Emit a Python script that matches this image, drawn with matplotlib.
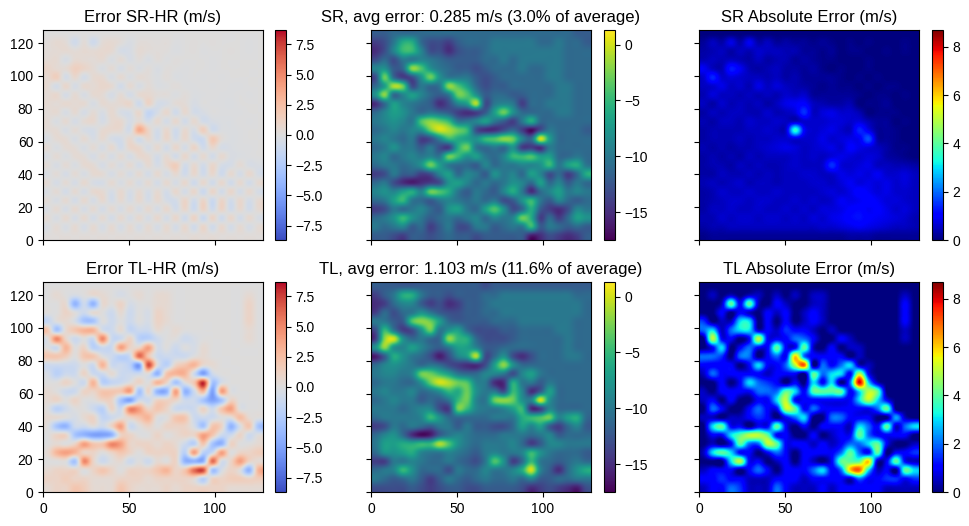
#!/usr/bin/env python

import numpy as np
import matplotlib
matplotlib.use("Agg")
import matplotlib.pyplot as plt

plt.rcParams['font.family'] = ['Liberation Sans', 'DejaVu Sans']

# values on a 24x24 grid, top row first (y=128 down to y=0)
sr_speed = [
[-12,-12,-11,-11,-11,-11,-11,-11,-11,-11,-11,-11,-11,-11,-11,-11,-11,-11,-11,-11,-11,-11,-12,-12],
[-14,-13,-10, -6, -6,-11,-13,-13,-14,-12,-11,-11,-11,-10,-10,-10,-10,-10,-11,-11,-10,-11,-11,-12],
[-15,-13, -9, -5, -5, -9,-13,-13,-15,-13,-12,-12,-11,-10,-10,-10,-10,-10,-10,-10,-10,-11,-11,-11],
[-13,-11,-13,-10,-10, -9,-10,-11,-12,-12,-12,-12,-11,-11,-10,-11,-10,-10,-10,-10,-10,-11,-11,-11],
[ -9, -8,-12,-11, -2, -4, -8,-10,-11,-12,-12,-13,-12,-11,-11,-11,-10,-11,-11,-10,-10,-11,-11,-11],
[-13, -3,-11,-14,-13, -8, -3, -8,-10,-10,-10,-12,-13,-12,-11,-11,-11,-11,-11,-10,-10,-11,-11,-11],
[-11, -7, -1, -3,-13,-10,-11,-10, -2, -4, -7,-11,-13,-12,-12,-11,-11,-11,-11,-11,-10,-10,-11,-11],
[ -8, -2,-11, -9, -7, -9, -11,-12, -10, -3, -4, -8,-12,-11,-11,-12,-12,-11,-11,-11,-10,-10,-11,-11],
[-15,-11, -7, -9,-10,-11,-12,-15,-13, -9, -7, -1,-13,-10, -9,-10,-14,-11,-11,-10,-10,-10,-11,-11],
[-11, -9, -7, -8,-10,-11,-10,-11,-12,-14,-15,-14,-12, -7, -3, -8,-11,-11,-11,-11,-10,-10,-11,-11],
[-10, -9, -8, -9,-10, -4, -2, -3, -5,-10,-10, -9, -7,-10,-12,-14,-10, -6,-11,-11,-11,-11,-11,-11],
[-11,-10, -9,-10, -9, -8, -3,  0, -1, -3, -5,-13,-15,-15,-13,-11,-14,-17,-13,-10,-11,-11,-11,-12],
[-10, -9,-10,-11,-10,-14,-13,-9, -5, -6, -7, -8, -5, -4, -2, -3, -9,-11,  0, -7,-11,-11,-11,-11],
[-11,-10, -8,-10,-10,-12,-10,-13,-14, -6, -3,-10,-11,-10,-11,-8,-14,-14,-15,-10,-11,-11,-11,-11],
[-10, -9,-11,-10, -9,-10, -9,-10, -3, -5, -8, -7,-10,-11, -9, -5, -5, -4, -7, -7,-11,-11,-10,-11],
[-11,-10,-10,-11,-10, -8, -3, -7,-10,-11,-11,-12, -9,-11,-10,-10, -9, -9, -8, -5,-10, -7, -6,-10],
[-14,-13,-10,-12,-12,-14,-13,-9, -7,-11, -9,-10,-12,-8,-10, -9,-11, -7, -9,-13,-11,-14,-11, -6],
[-11,-10,-13,-15,-16,-15,-14,-13, -8, -7, -9,-11,-10,-11,-10, -8, -9,-11, -7,-11,-9,-12,-10,-11],
[ -9, -8, -9, -7, -6, -9, -3, -4, -6,-10,-12,-10,-11,-12,-9, -6,-10,-15,-11,-9,-7,-10,-9,-10],
[-11,-10, -7, -5,-10,-11,-12,-10, -9,-10,-11,-10,-11,-10,-13,-12, -8, -5,-10,-12,-9,-11,-12,-11],
[-14,-13,-10,-11,-10, -9,-11,-12,-8, -7,-10,-11, -7, -4, -8,-13,-11, -6,-12,-14,-15,-13,-9,-10],
[-11,-10, -8, -5, -8,-10,-12,-11,-10,-11,-10, -9,-11, -9,-10,-9, -3, -6,-14,-11,-14,-11, -7, -8],
[-10,-11,-10, -9,-12,-11,-14,-12,-10,-13,-13,-10,-10,-12,-11,-10,-10, -5,-12,-10,-11,-12,-11,-12],
[-12,-12,-13,-14,-12,-12,-13,-12,-11,-12,-12,-13,-12,-12,-12,-12,-12,-16,-15,-13,-14,-15,-14,-12],
]

tl_speed = [
[-12,-12,-12,-12,-12,-12,-12,-12,-12,-12,-12,-12,-13,-12,-12,-12,-12,-12,-12,-12,-12,-12,-12,-12],
[-14,-12,-10, -6, -6,-10,-12,-12,-13,-12,-12,-12,-11,-11,-10,-10,-10,-10,-10,-10,-10,-10,-11,-11],
[-15,-14,-11, -9, -9,-12,-14,-13,-15,-14,-12,-12,-11,-10,-10,-10,-10,-10,-10,-10,-10,-10,-10,-11],
[-14,-11,-13,-11,-10, -8,-10,-12,-13,-13,-12,-12,-11,-11,-10,-10,-10,-10,-10,-10,-10,-10,-10,-11],
[-10,-10,-12,-12, -4, -2, -3, -7,-11,-12,-12,-12,-12,-11,-11,-11,-10,-10,-10,-10,-10,-10,-11,-11],
[-13, -5,-10,-14,-13, -8, -3,-10,-8, -7,-11,-13,-13,-13,-12,-12,-11,-11,-11,-11,-10,-10,-11,-11],
[-14, -2,  0, -8,-11,-10,-11,-11, -2, -5, -6,-11,-13,-13,-13,-12,-11,-11,-11,-11,-11,-10,-11,-11],
[ -8, -2, -8, -9, -7, -9,-11,-12,-10, -7, -7, -9,-12,-12,-11,-11,-11,-11,-11,-11,-11,-10,-11,-11],
[-16,-12, -6, -8,-10,-11,-13,-16,-13,-9, -7, -1,-13,-11, -8,-13,-15,-13,-11,-11,-11,-10,-10,-11],
[-11, -9, -8, -9,-10,-11,-10,-11,-13,-14,-15,-15,-13, -7, -2, -8,-11,-11,-11,-11,-11,-11,-11,-11],
[-10, -9, -9,-10, -9, -3, -3, -5, -7,-10,-11,-11, -9, -9,-10,-13,-9, -7,-10,-11,-11,-11,-11,-11],
[-11,-10,-10,-11,-11,-8, -3,  0, -1, -3, -4, -9,-10,-15,-15,-6,-10,-10,-12,-10,-11,-11,-11,-11],
[-10, -9,-10,-10, -9,-11,-10,-8, -5, -6, -3, -8,-10,-10,-13, -5,-9,-15,-12, -7,-11,-11,-11,-11],
[-11,-10, -9,-10,-10,-12,-11,-12,-10, -5, -3, -9,-10, -3, -2, -3,-8, -9,  0, -8,-11,-11,-11,-11],
[-10,-10,-10,-11,-10, -9, -9,-13,-14, -3, -5, -9,-10,-10,-9, -7, -5,-15,-14,-9,-11,-11,-11,-11],
[-11,-10,-10,-10,-10,-9, -5, -8,-11,-11,-11,-11,-11,-10,-10,-10, -6, -5, -4, -3,-9,-7, -6,-11],
[-14,-13,-10,-11,-10,-11,-12,-10,-10,-12,-10,-12,-12,-13,-13,-11, -7,-9, -7,-12,-14,-11,-9,-12],
[-11, -9, -8,-11,-15,-17,-16,-12,-10,-9,-10,-11,-11,-11,-10,-10,-10,-11,-10,-9,-12,-11,-11,-11],
[-10, -7, -7, -6, -6, -5, -5, -1, -4, -8,-10,-11,-10,-10,-10,-9,-11,-14,-12,-9,-9,-10,-10,-10],
[-11, -8, -8, -7, -6, -9,-10,-10,-9,-10,-11,-12,-10,-9,-10,-10,-9, -5, -8,-10,-11,-11,-11,-12],
[-14,-14,-10,-10,-9,-10,-11,-11,-10,-11,-12,-13,-10, -4, -8,-14,-11, -5,-10,-11,-12,-11,-10,-11],
[-11,-10, -9, -5, -8,-11,-11,-11,-13,-10,-11,-11,-9,-10,-10,-9, -6,  0, -9,-12,-15,-11,-8, -6],
[-10,-11,-12,-11,-10,-12,-14,-12,-10,-11,-12,-11,-10,-11,-11,-10,-11,-9,-12,-12,-11,-11,-10,-10],
[-13,-13,-13,-13,-12,-13,-14,-13,-12,-12,-13,-13,-12,-12,-12,-12,-13,-15,-14,-13,-14,-15,-16,-13],
]

tl_error = [
[0,0,0,0,0,0,0,0,0,0,0,0,0,0,0,0,0,0,0,0,0,0,0,0],
[0,0.5,0,-0.5,0,0.5,0.5,0,-0.5,0,0.5,0,0.5,0.5,0,0,0,0,0,0,0,0,0.5,0],
[0,0,0.5,-4,-1,-4,0.5,0,1,-0.5,0,0,0.5,0.5,0,0,0,0,0,0,0,0,1,0],
[0,0,1,0,-1,0.5,0,-1,0.5,-1,0,-0.5,1,0.5,0,0,0,0,0,0,0,0,1,0],
[-1.5,0,0.5,-0.5,-3,-3,0,-1,0,-1,0,-0.5,1,0.5,0,0,0,0,0,0,0,0,1,0],
[2,-3,0.5,2,3,3,-0.5,-1,0.5,-1.5,-1,-1,0.5,0,0.5,0,0,0,0,0,0,0,0.5,0],
[0,5,1,-1,0,-1,5,-1,-1,1,-2,-2,-1,0,0,-1,-0.5,0,0,0,0,0,0.5,0],
[0,-1,3,0,1,-2,-1,-1,4,1,1,4,-0.5,0,-1,0,-0.5,0.5,0,0,0,0,0,0],
[2,2,1.5,0,2,2,0,-1,-2,-1,6,2,-1,-1,-1,-1,0,0.5,0,0,0,0,0,0],
[-1,-1,-1,-1,0,-1,3,-1,-1,-2,-5,7,0,-2,1,2,3,0.5,0.5,0,0,0,0,0],
[-0.5,-2,-1,-1,1,-1,-1,0.5,-1,-1,-1,0,-4,2,3,3,-1,-5,-1,0,0,0,0,0],
[0,0,1,0,-1,3,-2,-1.5,-1,0,1,0,3,1,-3,0,2,8,-3,-0.5,0,0,0,0],
[0.5,0,-1,-1,1,1,2,2,2,4,-3,1,-4,-4,4,-4,-1,3,-5,4,0,0,0,0],
[0.5,1,0,1,0,0,1,1,-3,-5,-1,-1,1,1,1,-1,-1,-3,-5,-3,1,0,0,0],
[0,-2,-1,0,0,-1,-2,1,-1,5,4,1,2,1,-1,-1,-1,1,-1,2,4,0,0,0],
[0.5,0.5,0,-0.5,0.5,1,-1.5,-1,0,1,2,3,0,0,2,2,-1,-1,-1,0,0,2.5,0.5,0],
[0,-3,-4,-1,-1,0,-1,1,4,-1,0,1,0,1,1,1,-0.5,-3,2,1,-4,-0.5,2,-3],
[0,1,1,-3,-4,-5,-5,-4,1,1,0,0,1,0,0.5,1,1,4,2,-1,-1,1,-1,0],
[0,0.5,0,1,4,2,2,5,4,1,1,1,0.5,1,0.5,-1,-2,2,-3,-4,1,0,0,0.5],
[0.5,3,4,3,1,1,0,1,2,1,0,1,1,1,1,-2,4,-2,-1,4,0,1,1,1.5],
[0,0,0,-3,5,1,-1,0,0.5,-1,0,-1,0.5,0,1,-4,-4,-4,6,-0.5,1,4,1,0.5],
[0.5,1,1,1,0,1,2,1,0,1,1,1,2,3,1,2,6,7,-3,-0.5,1,0,-4,3],
[1,1,1.5,1,1,0.5,0.5,0.5,1,1,1,0.5,1,1,1,1,0.5,-2,1,1,1.5,1.5,1,1.5],
[0.5,1,1,2,1.5,0.5,0.5,0.5,2,1,0.5,0.5,0.5,1,0.5,1,1,1,1,1,0.5,0.5,0.5,0.5],
]

sr_error = [
[0,0,0,0,0,0,0,0,0,0,0,0,0,0,0,0,0,0,0,0,0,0,0,0],
[0.2,0.5,0.3,-0.8,0.3,-0.9,0.3,0.5,0.2,-0.3,0.2,0.2,0.1,0.2,-0.1,0,0.1,0,0.1,0,0,0,-0.1,0],
[0.3,0.4,0.5,0.3,0.5,0.4,0.6,0.5,-0.5,-0.4,0.4,0.2,0.2,0.1,-0.2,0,0.1,-0.1,0,0,0.1,0,-0.1,0],
[0.4,0.5,-0.4,0.5,0.4,0.3,0.5,-0.3,0.4,-0.4,0.2,-0.3,0.2,-0.1,0.1,0,0,0,-0.1,0,0,0,0,0],
[0.9,0.5,0.4,1.3,0.9,0.4,-0.3,0.4,-0.5,0.3,-0.3,0.2,-0.3,0.1,0,-0.1,0,0,-0.1,0,0,0,0,0],
[0.6,1.4,-0.6,0.7,-0.6,0.5,0.5,-0.4,0.5,-0.3,0.4,0.2,-0.2,0.2,-0.2,-0.1,0,-0.1,0,-0.1,0,0,0,0],
[0.5,-0.6,0.8,-0.5,0.6,0.4,0.8,0.5,-0.7,0.5,-0.4,0.3,-0.2,-0.1,0.2,-0.1,-0.1,0,-0.1,0,-0.1,-0.1,0,0],
[0.4,0.7,-0.5,0.5,-0.4,0.5,0.4,-0.5,0.4,-0.6,0.5,0.6,0.2,0.2,-0.2,0.2,-0.2,-0.1,0,-0.1,-0.1,0,-0.1,0],
[0.5,0.3,0.6,0.4,0.5,-0.4,0.5,0.3,0.5,0.8,-0.9,1.0,-0.5,-0.4,0.3,0.3,-0.4,0,-0.1,-0.1,-0.2,0,0,0],
[0.3,0.5,-0.4,0.5,-0.5,0.4,-0.4,0.6,-0.4,-0.5,0.7,-1.5,-0.5,0.7,-0.8,0.6,-0.6,-0.4,0,-0.1,-0.1,-0.1,0,0],
[0.4,-0.3,0.5,-0.5,0.4,0.6,-0.5,0.5,0.6,-0.5,0.5,-0.6,0.6,-0.6,0.7,-0.7,0.6,-0.7,-0.4,-0.2,-0.2,0,-0.1,0],
[0.3,0.4,-0.4,0.4,-0.4,-0.5,0.5,0.6,0.5,-0.6,3.5,1.0,-0.6,0.7,-0.8,0.6,-0.5,1.4,-0.8,-0.2,-0.2,-0.1,0,0],
[-0.3,0.4,0.4,-0.4,0.5,-0.4,0.5,-0.5,-0.6,0.6,-0.7,0.6,-0.6,0.8,-0.6,0.7,-0.8,-0.9,1.8,0.3,-0.2,-0.1,0,0],
[0.4,-0.3,0.4,0.3,-0.4,0.4,-0.5,0.6,-0.7,0.8,0.7,-0.5,0.6,-0.7,0.8,-0.6,1.0,-0.8,0.7,-0.5,-0.3,-0.1,-0.1,0],
[-0.3,0.4,-0.3,0.4,0.3,-0.5,0.4,-0.5,0.5,-0.5,0.6,0.5,-0.6,0.5,-0.7,0.8,-0.7,0.6,-0.7,0.6,-0.3,-0.2,-0.1,0],
[0.3,-0.4,0.4,-0.3,0.5,0.4,-0.5,0.4,-0.4,0.5,-0.6,0.5,-0.5,0.6,1.5,-0.7,0.6,-0.7,0.8,-0.5,-0.5,0.4,-0.4,-0.3],
[-0.3,0.3,-0.5,0.4,-0.4,0.5,0.4,-0.5,0.4,-0.5,0.5,-0.6,0.6,-0.5,0.6,-0.8,0.7,-0.8,0.7,-0.9,0.6,-0.6,0.7,-0.5],
[0.4,-0.5,0.4,-0.5,0.6,-0.4,-0.5,0.5,-0.4,0.5,-0.5,0.5,-0.6,0.6,-0.5,0.7,-0.9,0.7,-0.8,0.7,-0.8,0.6,-0.7,0.5],
[-0.3,0.4,-0.6,0.5,-0.5,0.6,0.5,-0.5,0.6,-0.5,0.5,-0.5,0.5,-0.6,0.7,-0.6,0.8,-1.1,0.9,-0.7,0.8,-0.6,0.6,-0.5],
[0.3,-0.4,0.5,-0.6,0.6,-0.5,0.6,-0.6,0.5,-0.5,0.6,-0.5,0.6,-0.5,-0.6,0.9,-0.8,0.9,-1.1,0.9,-0.7,0.7,-0.6,0.5],
[-0.3,0.5,-0.5,0.6,-0.5,0.5,-0.6,0.5,-0.5,0.6,-0.5,0.6,-0.5,0.7,-0.7,0.8,-1.0,1.1,-0.9,1.0,-0.8,0.6,-0.7,0.5],
[0.4,-0.4,0.6,-0.5,0.6,-0.6,0.5,-0.6,0.6,-0.5,0.6,-0.5,0.7,-0.6,0.8,-0.9,1.1,-1.2,1.0,-0.9,0.8,-0.7,0.6,-0.4],
[-0.3,0.4,-0.4,0.5,-0.5,0.5,-0.5,0.5,-0.5,0.5,-0.5,0.5,-0.5,0.6,-0.6,0.7,-0.8,0.9,-0.8,0.7,-0.6,0.5,-0.5,0.4],
[0.1,0.2,0.2,0.2,0.2,0.2,0.2,0.2,0.2,0.2,0.2,0.2,0.2,0.2,0.2,0.2,0.3,0.3,0.3,0.2,0.2,0.2,0.2,0.2],
]

titles = [["Error SR-HR (m/s)", "SR, avg error: 0.285 m/s (3.0% of average)", "SR Absolute Error (m/s)"],
          ["Error TL-HR (m/s)", "TL, avg error: 1.103 m/s (11.6% of average)", "TL Absolute Error (m/s)"]]

err_lim = 8.7
speed_lim = [-17.5, 1.3]
abs_lim = [0, 8.7]
err_ticks = [-7.5, -5.0, -2.5, 0.0, 2.5, 5.0, 7.5]
speed_ticks = [-15, -10, -5, 0]
abs_ticks = [0, 2, 4, 6, 8]
x_ticks = [0, 50, 100]
y_ticks = [0, 20, 40, 60, 80, 100, 120]

W, H = 970.0, 526.0
col_x = [43, 371, 699]
row_y = [30, 282]
cbar_x = [275, 604, 932]
ax_w, ax_h, cbar_w = 220, 210, 11

sr_err = np.array(sr_error, dtype=float)
tl_err = np.array(tl_error, dtype=float)

panels = [[(sr_err, "coolwarm", -err_lim, err_lim, err_ticks),
           (np.array(sr_speed, dtype=float), "viridis", speed_lim[0], speed_lim[1], speed_ticks),
           (np.abs(sr_err), "jet", abs_lim[0], abs_lim[1], abs_ticks)],
          [(tl_err, "coolwarm", -err_lim, err_lim, err_ticks),
           (np.array(tl_speed, dtype=float), "viridis", speed_lim[0], speed_lim[1], speed_ticks),
           (np.abs(tl_err), "jet", abs_lim[0], abs_lim[1], abs_ticks)]]

fig = plt.figure(figsize=(W/100, H/100), dpi=100, facecolor='w')

for i in range(2):
    for j in range(3):
        data, cmap, vmin, vmax, cticks = panels[i][j]
        ax = fig.add_axes([col_x[j]/W, 1 - (row_y[i] + ax_h)/H, ax_w/W, ax_h/H])
        im = ax.imshow(data, cmap=cmap, vmin=vmin, vmax=vmax, aspect="auto",
                       interpolation="catrom", extent=[0, 128, 0, 128])
        ax.set_xlim(0, 128)
        ax.set_ylim(0, 128)
        ax.set_xticks(x_ticks)
        ax.set_yticks(y_ticks)
        if i == 0:
            ax.set_xticklabels([])
        if j > 0:
            ax.set_yticklabels([])
        ax.tick_params(labelsize=10)
        ax.set_title(titles[i][j], fontsize=12)

        cax = fig.add_axes([cbar_x[j]/W, 1 - (row_y[i] + ax_h)/H, cbar_w/W, ax_h/H])
        cb = fig.colorbar(im, cax=cax)
        cb.set_ticks(cticks)
        cb.ax.tick_params(labelsize=10)

plt.savefig("out.png", dpi=100)
